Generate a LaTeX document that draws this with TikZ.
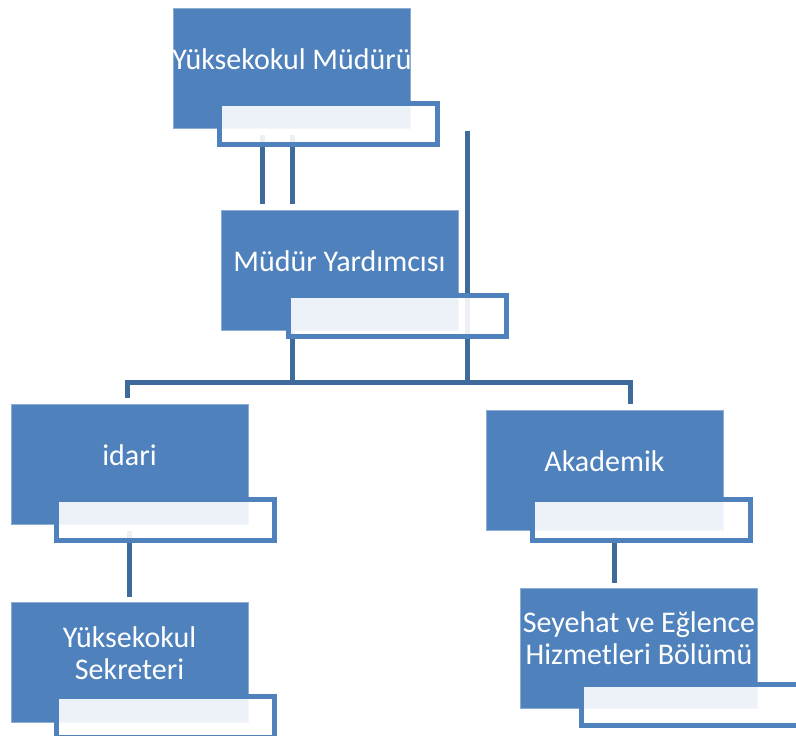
\documentclass[tikz,border=0pt]{standalone}
\usepackage{fontspec}
\setmainfont{Carlito}
\usetikzlibrary{positioning}
\definecolor{orgblue}{HTML}{4F81BD}
\definecolor{linkblue}{HTML}{3F6A9C}

\begin{document}
\begin{tikzpicture}[x=1pt, y=-1pt,
    mainbox/.style={fill=orgblue, draw=orgblue!65!white, line width=1pt, minimum width=237pt, minimum height=120pt, inner sep=0pt},
    subbox/.style={fill=white, fill opacity=0.9, draw=orgblue, line width=5pt, minimum width=218pt, minimum height=41pt, inner sep=0pt},
    boxtext/.style={text=white, font=\fontsize{30}{32}\selectfont, align=center, inner sep=0pt},
    link/.style={draw=linkblue, line width=5pt}]
                \useasboundingbox (0,0) rectangle (796,736);

                \node[mainbox] (mud) at (292,68) {};
                \node[mainbox] (yrd) at (339.5,270) {};
                \node[mainbox] (idr) at (129.5,464) {};
                \node[mainbox] (akd) at (604.5,470) {};
                \node[mainbox] (skr) at (129.5,662) {};
                \node[mainbox] (syh) at (639,648) {};

                \node[boxtext] (mud-t) at ([yshift=9pt]mud.center) {Yüksekokul Müdürü};
                \node[boxtext] (yrd-t) at ([yshift=9pt]yrd.center) {Müdür Yardımcısı};
                \node[boxtext] (idr-t) at ([yshift=9pt]idr.center) {idari};
                \node[boxtext] (akd-t) at ([yshift=9pt]akd.center) {Akademik};
                \node[boxtext] (skr-t) at ([yshift=9pt]skr.center) {Yüksekokul\\Sekreteri};
                \node[boxtext] (syh-t) at ([yshift=10pt]syh.center) {Seyehat ve Eğlence\\Hizmetleri Bölümü};

                \coordinate (b1) at (127,382);
                \coordinate (b2) at (630,382);
                \coordinate (j1) at (467,131);

                \draw[link] ([xshift=-30pt,yshift=-6pt]mud.south) -- ([xshift=-30pt,yshift=6pt]yrd.north -| mud.south);
                \draw[link] ([yshift=-6pt]mud.south) -- ([yshift=6pt]yrd.north -| mud.south);
                \draw[link] (yrd.south -| mud.south) -- (b1 -| mud.south);
                \draw[link] (j1) -- (j1 |- b1);
                \draw[link] ([yshift=6pt]idr.north -| b1) -- (b1) -- (b2) -- ([yshift=6pt]akd.north -| b2);
                \draw[link] ([yshift=-6pt]idr.south) -- ([yshift=5pt]skr.north);
                \draw[link] ([xshift=10pt,yshift=-6pt]akd.south) coordinate (a1) -- ([yshift=5pt]syh.north -| a1);

                \node[subbox] (mud-s) at (328.5,123.5) {};
                \node[subbox] (yrd-s) at (397.5,316) {};
                \node[subbox] (idr-s) at (165.5,520) {};
                \node[subbox] (akd-s) at (641,520) {};
                \node[subbox] (skr-s) at (165.5,717) {};
                \node[subbox] (syh-s) at (690.5,705) {};
\end{tikzpicture}
\end{document}
